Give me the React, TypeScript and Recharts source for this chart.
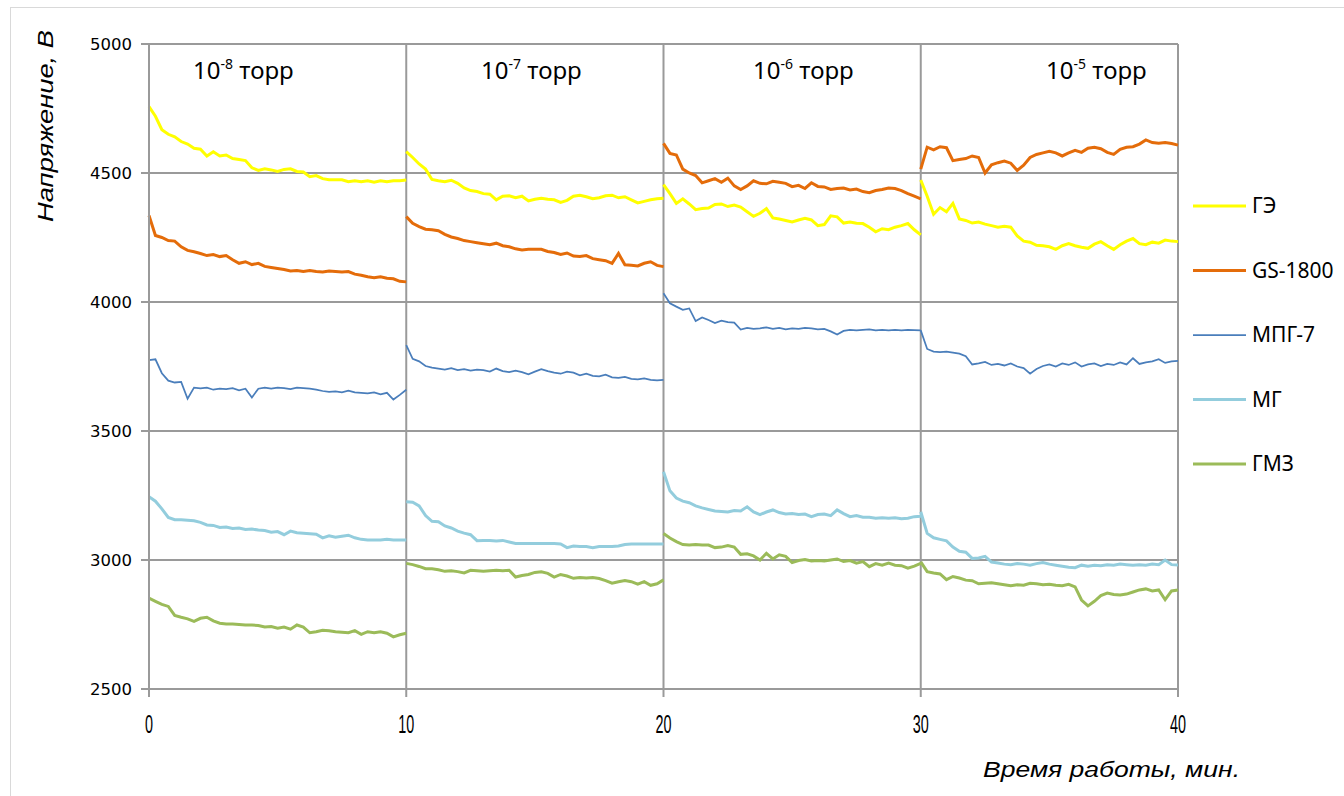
import { LineChart, Line, XAxis, YAxis, CartesianGrid } from "recharts";

// Each run is recorded in four 10-minute blocks, one per chamber pressure.
const SEGMENT_STARTS = [0, 10, 20, 30];
const SEGMENT_OFFSETS = [
  0, 0.25, 0.5, 0.75, 1, 1.25, 1.5, 1.75, 2, 2.25, 2.5, 2.75, 3, 3.25, 3.5, 3.75, 4, 4.25, 4.5, 4.75, 5,
  5.25, 5.5, 5.75, 6, 6.25, 6.5, 6.75, 7, 7.25, 7.5, 7.75, 8, 8.25, 8.5, 8.75, 9, 9.25, 9.5, 9.75, 10,
];
const PRESSURE_EXPONENTS = ["-8", "-7", "-6", "-5"];
const X_TICKS = [0, 10, 20, 30, 40];
const Y_TICKS = [2500, 3000, 3500, 4000, 4500, 5000];

// Voltage, V — one array per pressure block
const GE = [
  [4757, 4720, 4668, 4650, 4640, 4622, 4612, 4596, 4592, 4566, 4582, 4566, 4570, 4556, 4552, 4548, 4520, 4510, 4516, 4512, 4506,
   4514, 4516, 4506, 4504, 4486, 4490, 4478, 4474, 4474, 4474, 4466, 4470, 4466, 4470, 4464, 4470, 4466, 4470, 4470, 4473],
  [4583, 4560, 4535, 4515, 4475, 4470, 4466, 4472, 4460, 4442, 4432, 4428, 4420, 4418, 4396, 4410, 4412, 4404, 4410, 4392, 4398,
   4402, 4398, 4396, 4386, 4394, 4410, 4414, 4408, 4400, 4404, 4412, 4414, 4404, 4408, 4396, 4384, 4390, 4396, 4400, 4402],
  [4455, 4420, 4382, 4400, 4380, 4358, 4362, 4364, 4378, 4380, 4370, 4376, 4368, 4350, 4332, 4344, 4362, 4326, 4322, 4316, 4310,
   4318, 4324, 4318, 4296, 4300, 4334, 4330, 4306, 4310, 4305, 4304, 4290, 4272, 4284, 4280, 4290, 4296, 4304, 4280, 4260],
  [4473, 4410, 4340, 4366, 4350, 4382, 4322, 4316, 4306, 4310, 4302, 4296, 4290, 4294, 4290, 4256, 4236, 4232, 4220, 4218, 4214,
   4204, 4218, 4226, 4218, 4212, 4208, 4224, 4234, 4218, 4204, 4222, 4236, 4246, 4226, 4222, 4232, 4228, 4240, 4236, 4234],
];

const GS1800 = [
  [4335, 4258, 4250, 4238, 4236, 4214, 4200, 4195, 4188, 4180, 4184, 4176, 4180, 4164, 4150, 4156, 4145, 4150, 4138, 4134, 4130,
   4126, 4120, 4122, 4118, 4122, 4118, 4116, 4120, 4118, 4116, 4118, 4108, 4104, 4098, 4094, 4098, 4092, 4090, 4080, 4078],
  [4331, 4305, 4292, 4282, 4280, 4276, 4262, 4252, 4246, 4238, 4234, 4230, 4226, 4222, 4228, 4218, 4214, 4206, 4202, 4204, 4204,
   4204, 4196, 4192, 4184, 4190, 4178, 4176, 4180, 4168, 4164, 4160, 4150, 4188, 4144, 4142, 4140, 4150, 4156, 4142, 4137],
  [4615, 4576, 4570, 4515, 4500, 4490, 4462, 4470, 4478, 4464, 4480, 4450, 4436, 4450, 4470, 4460, 4458, 4468, 4464, 4460, 4447,
   4452, 4440, 4462, 4448, 4446, 4436, 4440, 4442, 4434, 4438, 4428, 4424, 4432, 4436, 4442, 4440, 4432, 4420, 4410, 4400],
  [4515, 4600, 4590, 4602, 4598, 4548, 4552, 4556, 4566, 4560, 4500, 4532, 4540, 4546, 4538, 4510, 4530, 4560, 4572, 4578, 4584,
   4578, 4566, 4578, 4588, 4580, 4596, 4600, 4594, 4580, 4572, 4592, 4600, 4602, 4612, 4628, 4618, 4615, 4618, 4614, 4608],
];

const MPG7 = [
  [3775, 3778, 3724, 3695, 3688, 3690, 3625, 3668, 3665, 3668, 3660, 3664, 3662, 3666, 3658, 3664, 3630, 3664, 3668, 3664, 3668,
   3666, 3662, 3668, 3666, 3664, 3660, 3655, 3652, 3654, 3650, 3656, 3650, 3648, 3646, 3650, 3642, 3648, 3622, 3640, 3660],
  [3833, 3780, 3770, 3752, 3746, 3742, 3738, 3744, 3736, 3740, 3734, 3738, 3736, 3730, 3742, 3732, 3728, 3734, 3728, 3720, 3730,
   3740, 3732, 3726, 3722, 3730, 3726, 3716, 3722, 3714, 3712, 3718, 3708, 3706, 3710, 3702, 3700, 3704, 3698, 3696, 3698],
  [4034, 3995, 3982, 3970, 3975, 3926, 3940, 3930, 3918, 3928, 3922, 3920, 3893, 3900, 3896, 3898, 3902, 3896, 3900, 3894, 3898,
   3896, 3900, 3898, 3894, 3896, 3886, 3874, 3888, 3892, 3890, 3892, 3894, 3890, 3892, 3890, 3892, 3890, 3892, 3891, 3890],
  [3890, 3818, 3808, 3806, 3808, 3804, 3800, 3790, 3758, 3762, 3768, 3756, 3760, 3754, 3762, 3750, 3744, 3722, 3740, 3752, 3758,
   3750, 3762, 3756, 3766, 3750, 3758, 3762, 3752, 3760, 3756, 3766, 3758, 3782, 3760, 3766, 3770, 3778, 3764, 3770, 3772],
];

const MG = [
  [3245, 3228, 3198, 3165, 3156, 3156, 3154, 3152, 3146, 3136, 3134, 3126, 3128, 3122, 3124, 3118, 3120, 3116, 3114, 3108, 3110,
   3098, 3112, 3106, 3104, 3102, 3100, 3086, 3094, 3088, 3092, 3096, 3086, 3080, 3078, 3078, 3078, 3080, 3078, 3078, 3078],
  [3226, 3224, 3210, 3172, 3150, 3148, 3132, 3124, 3112, 3104, 3098, 3075, 3076, 3076, 3074, 3076, 3070, 3064, 3064, 3064, 3064,
   3064, 3064, 3064, 3062, 3048, 3054, 3052, 3052, 3048, 3052, 3052, 3052, 3054, 3060, 3062, 3062, 3062, 3062, 3062, 3062],
  [3342, 3268, 3240, 3228, 3222, 3210, 3202, 3196, 3190, 3188, 3186, 3192, 3190, 3206, 3186, 3176, 3186, 3194, 3184, 3178, 3180,
   3176, 3178, 3168, 3176, 3178, 3172, 3194, 3180, 3168, 3172, 3166, 3166, 3162, 3164, 3162, 3164, 3160, 3162, 3168, 3170],
  [3187, 3103, 3086, 3080, 3074, 3050, 3034, 3030, 3006, 3008, 3014, 2992, 2988, 2984, 2982, 2986, 2984, 2980, 2986, 2990, 2984,
   2980, 2976, 2972, 2970, 2980, 2976, 2980, 2978, 2982, 2980, 2984, 2982, 2980, 2982, 2980, 2984, 2982, 3000, 2982, 2981],
];

const GMZ = [
  [2852, 2840, 2828, 2820, 2785, 2778, 2772, 2762, 2774, 2778, 2764, 2755, 2752, 2752, 2750, 2748, 2748, 2746, 2740, 2742, 2736,
   2740, 2732, 2748, 2740, 2718, 2722, 2728, 2726, 2722, 2720, 2718, 2726, 2712, 2722, 2718, 2722, 2716, 2702, 2710, 2716],
  [2987, 2982, 2975, 2966, 2966, 2962, 2956, 2958, 2955, 2950, 2960, 2958, 2956, 2958, 2960, 2958, 2960, 2934, 2940, 2944, 2952,
   2954, 2948, 2934, 2944, 2938, 2929, 2932, 2930, 2932, 2928, 2920, 2910, 2916, 2920, 2916, 2906, 2916, 2902, 2908, 2923],
  [3103, 3085, 3071, 3060, 3058, 3060, 3058, 3058, 3048, 3050, 3056, 3050, 3022, 3024, 3016, 3000, 3026, 3004, 3020, 3014, 2990,
   2998, 3002, 2996, 2998, 2996, 3000, 3004, 2994, 2998, 2988, 2994, 2974, 2986, 2980, 2988, 2980, 2978, 2968, 2976, 2987],
  [2993, 2955, 2950, 2946, 2924, 2936, 2930, 2922, 2920, 2908, 2910, 2912, 2908, 2904, 2900, 2904, 2902, 2910, 2908, 2904, 2906,
   2902, 2900, 2906, 2896, 2845, 2822, 2840, 2862, 2872, 2866, 2864, 2868, 2876, 2884, 2888, 2880, 2884, 2846, 2880, 2884],
];

const SERIES = [
  { name: "ГЭ", color: "#FFFF00", width: 3, segments: GE },
  { name: "GS-1800", color: "#E46C0A", width: 3, segments: GS1800 },
  { name: "МПГ-7", color: "#4A7EBB", width: 1.75, segments: MPG7 },
  { name: "МГ", color: "#93CDDD", width: 3, segments: MG },
  { name: "ГМЗ", color: "#9BBB59", width: 3, segments: GMZ },
];

const GRID = "#9a9a9a";

// Blocks are separate recordings: a null point between them breaks the line.
const toPoints = (segments: number[][]) =>
  segments.flatMap((seg, k) => {
    const pts: { t: number; v: number | null }[] = seg.map((v, i) => ({ t: SEGMENT_STARTS[k] + SEGMENT_OFFSETS[i], v }));
    return k === 0 ? pts : [{ t: SEGMENT_STARTS[k], v: null }, ...pts];
  });

const XTick = ({ x, y, payload }: any) => (
  <text
    x={x}
    y={y + 34}
    textAnchor="middle"
    fontFamily="Liberation Sans, Arial, sans-serif"
    fontSize={26}
    fill="#000"
    textLength={String(payload.value).length * 8}
    lengthAdjust="spacingAndGlyphs"
  >
    {payload.value}
  </text>
);

const YTick = ({ x, y, payload }: any) => (
  <text x={x} y={y + 6} textAnchor="end" fontFamily="DejaVu Sans, Verdana, sans-serif" fontSize={16.5} fill="#000">
    {payload.value}
  </text>
);

export default function App() {
  const legendTop = 206;
  const legendStep = 64.5;
  const labelLefts = [193, 481, 753, 1046];

  return (
    <div style={{ position: "fixed", left: 0, top: 0, width: 1344, height: 796, overflow: "hidden", background: "#fff" }}>
      <div
        style={{
          position: "absolute",
          left: 10,
          top: 7,
          width: 1360,
          height: 820,
          border: "1px solid #d9d9d9",
        }}
      />
      <LineChart width={1344} height={796} margin={{ top: 44, right: 166, bottom: 0, left: 0 }}>
        <CartesianGrid stroke={GRID} strokeWidth={2} />
        <XAxis
          type="number"
          dataKey="t"
          domain={[0, 40]}
          ticks={X_TICKS}
          height={107}
          stroke={GRID}
          strokeWidth={2}
          tickSize={8}
          tick={<XTick />}
          allowDuplicatedCategory
        />
        <YAxis
          type="number"
          dataKey="v"
          domain={[2500, 5000]}
          ticks={Y_TICKS}
          width={149}
          stroke={GRID}
          strokeWidth={2}
          tickSize={8}
          tickMargin={9}
          tick={<YTick />}
        />
        {SERIES.map((s) => (
          <Line
            key={s.name}
            name={s.name}
            data={toPoints(s.segments)}
            dataKey="v"
            type="linear"
            stroke={s.color}
            strokeWidth={s.width}
            dot={false}
            activeDot={false}
            connectNulls={false}
            isAnimationActive={false}
          />
        ))}
      </LineChart>
      <svg width={1344} height={796} style={{ position: "absolute", left: 0, top: 0, pointerEvents: "none" }}>
        {PRESSURE_EXPONENTS.map((exp, i) => (
          <text key={exp} x={labelLefts[i]} y={79} fontFamily="Noto Sans, sans-serif" fontSize={24} fill="#000">
            10
            <tspan dy={-10} fontSize={14}>
              {exp}
            </tspan>
            <tspan dy={10}> торр</tspan>
          </text>
        ))}
        <text
          transform="translate(53,126) rotate(-90)"
          textAnchor="middle"
          fontFamily="Liberation Sans, Arial, sans-serif"
          fontStyle="italic"
          fontSize={22}
          fill="#000"
          textLength={192}
          lengthAdjust="spacingAndGlyphs"
        >
          Напряжение, В
        </text>
        <text
          x={983}
          y={777}
          fontFamily="Liberation Sans, Arial, sans-serif"
          fontStyle="italic"
          fontSize={22}
          fill="#000"
          textLength={257}
          lengthAdjust="spacingAndGlyphs"
        >
          Время работы, мин.
        </text>
        {SERIES.map((s, i) => {
          const y = legendTop + i * legendStep;
          return (
            <g key={s.name}>
              <line x1={1193} x2={1246} y1={y} y2={y} stroke={s.color} strokeWidth={s.width} />
              <text x={1252} y={y + 7} fontFamily="Noto Sans, sans-serif" fontSize={21} fill="#000">
                {s.name}
              </text>
            </g>
          );
        })}
      </svg>
    </div>
  );
}
